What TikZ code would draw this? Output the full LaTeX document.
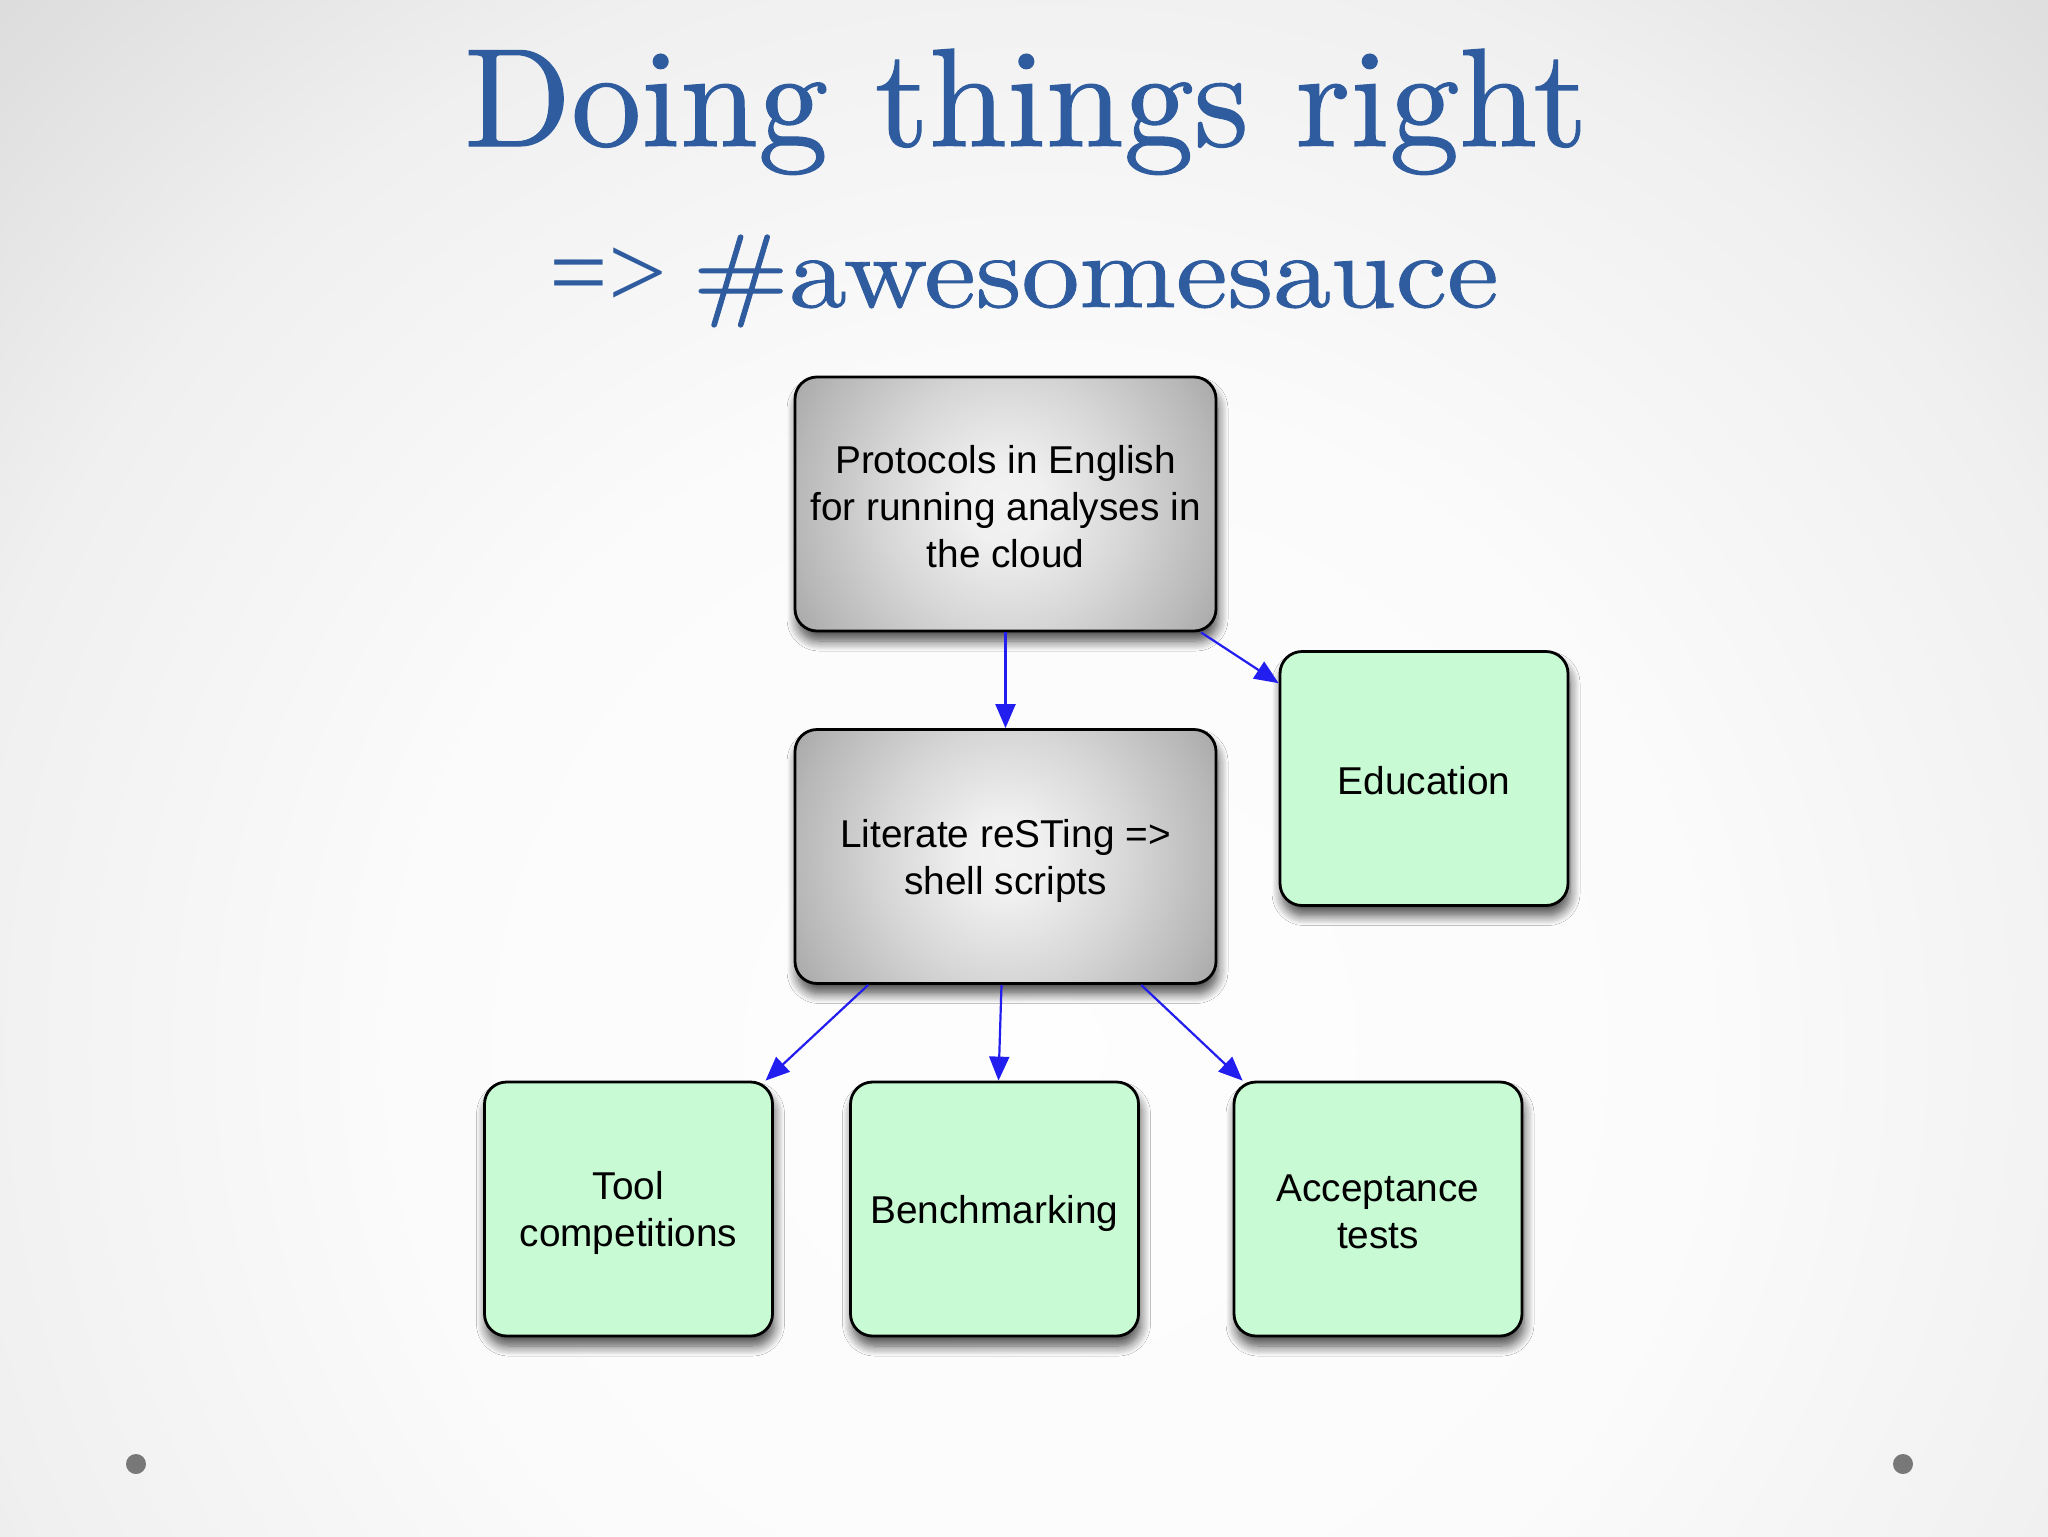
\documentclass[tikz,border=0pt]{standalone}
\usepackage{fontspec}
\newfontfamily\boxfont{Liberation Sans}
\newfontfamily\symfont{Liberation Serif}
\newfontfamily\titlefont{lmroman10-regular}[Extension=.otf, FakeBold=0.8]
\usetikzlibrary{arrows.meta,shadows.blur}
\definecolor{titleblue}{RGB}{47,92,158}
\definecolor{boxgreen}{RGB}{200,250,212}
\definecolor{arrowblue}{RGB}{35,30,240}
\definecolor{dotgray}{RGB}{120,120,120}
\pgfdeclareradialshading{bgshade}{\pgfpoint{0bp}{0bp}}{%
  rgb(0bp)=(0.995,0.995,0.995); rgb(10bp)=(0.985,0.985,0.985);
  rgb(17.5bp)=(0.94,0.94,0.94); rgb(25bp)=(0.84,0.84,0.84); rgb(50bp)=(0.84,0.84,0.84)}
\pgfdeclareradialshading{boxshade}{\pgfpoint{0bp}{0bp}}{%
  rgb(0bp)=(0.95,0.95,0.95); rgb(4bp)=(0.94,0.94,0.94);
  rgb(12.5bp)=(0.84,0.84,0.84); rgb(21bp)=(0.72,0.72,0.72); rgb(25bp)=(0.65,0.65,0.65);
  rgb(50bp)=(0.65,0.65,0.65)}
\tikzset{
  base box/.style={draw=black, line width=1.4pt, rounded corners=11pt, inner sep=0pt,
    blur shadow={shadow xshift=1pt, shadow yshift=-5pt, shadow blur radius=5pt,
      shadow blur steps=10, shadow opacity=70}},
  graybox/.style={base box, minimum width=210.5pt, minimum height=127pt, fill=gray!50,
    path picture={\shade[shading=boxshade] (path picture bounding box.center) circle (125pt);}},
  greenbox/.style={base box, minimum width=144pt, minimum height=127pt, fill=boxgreen},
  boxtext/.style={align=center, inner sep=0pt, font=\boxfont\fontsize{19.4pt}{23.5pt}\selectfont},
  arr/.style={draw=arrowblue, line width=1.1pt, -{Triangle[length=12pt,width=10pt]}},
  titletext/.style={anchor=base, text=titleblue, inner sep=0pt},
  subtext/.style={anchor=base west, text=titleblue, inner sep=0pt}
}
\begin{document}
\begin{tikzpicture}[x=0.5pt,y=-0.5pt]
\useasboundingbox (0,0) rectangle (2048,1536);
\fill[black!16] (0,0) rectangle (2048,1536);
\begin{scope}
\clip (0,0) rectangle (2048,1536);
\shade[shading=bgshade] (1050,1050) circle (1600);
\end{scope}
% dots
\fill[dotgray] (136,1464) circle (10);
\fill[dotgray] (1903,1464) circle (10);
% titles
\node[titletext, font=\titlefont\fontsize{70pt}{80pt}\selectfont] (t1) at (1026,146) {Doing things right};
\node[subtext, font=\symfont\fontsize{52pt}{60pt}\selectfont] (t2a) at (549,307) {=>};
\node[subtext, font=\titlefont\fontsize{52pt}{60pt}\selectfont] (t2b) at (692,307) {\scalebox{1.115}[1]{\#awesomesauce}};
% boxes
\node[graybox] (proto) at (1005.5,504) {};
\node[graybox] (lit) at (1005.5,856.5) {};
\node[greenbox] (edu) at (1424,778.5) {};
\node[greenbox] (tool) at (628.5,1209) {};
\node[greenbox] (bench) at (994.5,1209) {};
\node[greenbox] (acc) at (1378,1209) {};
% box texts
\node[boxtext] (protot) at ([yshift=-1.5pt]proto.center) {Protocols in English\\for running analyses in\\the cloud};
\node[boxtext] (litt) at ([yshift=-2pt]lit.center) {Literate reSTing =>\\shell scripts};
\node[boxtext] (edut) at ([yshift=-1pt]edu.center) {Education};
\node[boxtext] (toolt) at ([yshift=-2pt]tool.center) {Tool\\competitions};
\node[boxtext] (bencht) at ([yshift=-2pt]bench.center) {Benchmarking};
\node[boxtext] (acct) at ([yshift=-1.5pt]acc.center) {Acceptance\\tests};
% connectors
\draw[arr] (proto) -- (lit);
\draw[arr] (proto) -- (edu);
\draw[arr] (lit) -- (tool);
\draw[arr] (lit) -- (bench);
\draw[arr] (lit) -- (acc);
\end{tikzpicture}
\end{document}
